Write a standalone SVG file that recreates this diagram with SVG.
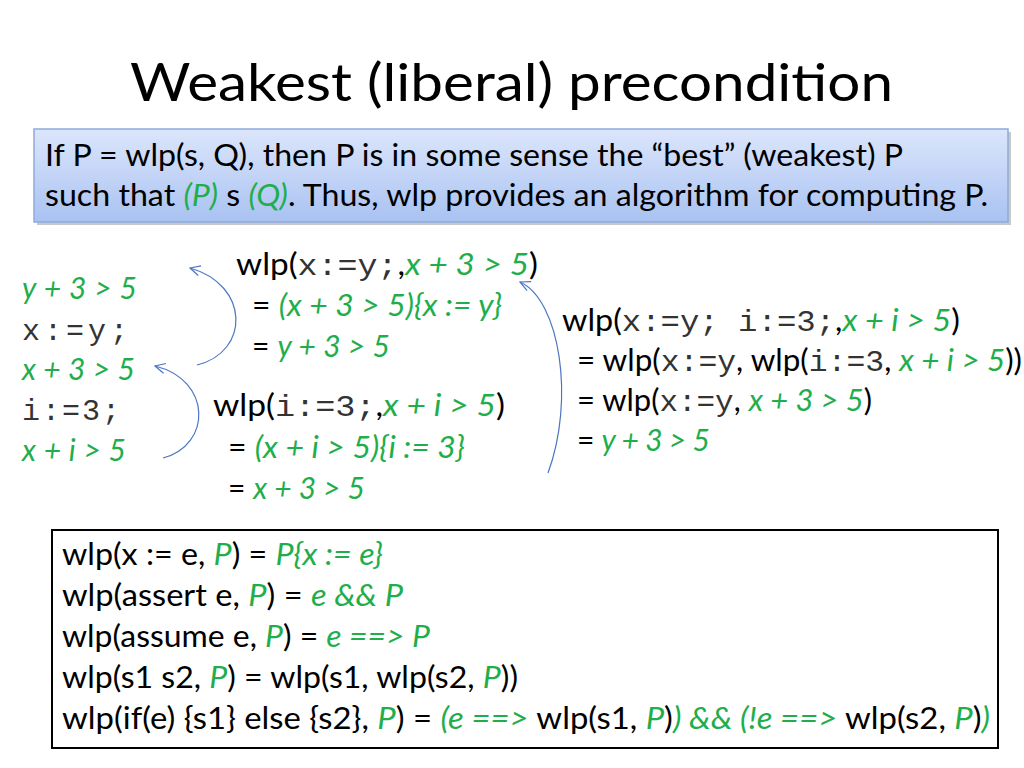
<svg xmlns="http://www.w3.org/2000/svg" width="1024" height="768" viewBox="0 0 1024 768">
<defs>
<linearGradient id="g" x1="0" y1="0" x2="0" y2="1"><stop offset="0" stop-color="#dce6fb"/><stop offset="1" stop-color="#a9c2f2"/></linearGradient>
<marker id="a" viewBox="0 0 12 12" refX="11" refY="6" markerWidth="12" markerHeight="12" markerUnits="userSpaceOnUse" orient="auto"><path d="M1,1 L11,6 L1,11" fill="none" stroke="#4a76c4" stroke-width="1.2"/></marker>
</defs>
<style>
text{font-family:Lato,"Open Sans",sans-serif;font-size:30px;fill:#000}
.g{fill:#1fae4b;font-style:italic}
.m{font-family:"Liberation Mono",monospace;fill:#333}
.c{fill:none;stroke:#4a76c4;stroke-width:1.2}
</style>
<rect width="1024" height="768" fill="#fff"/>
<text x="130" y="101" style="font-size:52px" textLength="763" lengthAdjust="spacingAndGlyphs">Weakest (liberal) precondition</text>
<g id="box">
<rect x="37" y="132" width="974" height="93" fill="#c8c8c8"/>
<rect x="34" y="129" width="974" height="93" fill="url(#g)" stroke="#8eaadb" stroke-width="1.5"/>
<text x="45" y="166" textLength="858" lengthAdjust="spacingAndGlyphs">If P = wlp(s, Q), then P is in some sense the “best” (weakest) P</text>
<text x="45" y="206" textLength="943" lengthAdjust="spacingAndGlyphs">such that <tspan class="g">(P)</tspan> s <tspan class="g">(Q)</tspan>.  Thus, wlp provides an algorithm for computing P.</text>
</g>
<g id="left">
<text x="22" y="299" class="g" textLength="115">y + 3 &gt; 5</text>
<text x="22" y="340" class="m" textLength="106">x:=y;</text>
<text x="22" y="380" class="g" textLength="113">x + 3 &gt; 5</text>
<text x="22" y="420" class="m" textLength="98">i:=3;</text>
<text x="22" y="461" class="g" textLength="104">x + i &gt; 5</text>
</g>
<g id="n1">
<text x="236" y="275" textLength="302" lengthAdjust="spacingAndGlyphs">wlp(<tspan class="m">x:=y;</tspan>,<tspan class="g">x + 3 &gt; 5</tspan>)</text>
<text x="252" y="316" textLength="250" lengthAdjust="spacingAndGlyphs">= <tspan class="g">(x + 3 &gt; 5){x := y}</tspan></text>
<text x="252" y="357" textLength="138">= <tspan class="g">y + 3 &gt; 5</tspan></text>
</g>
<g id="n2">
<text x="213" y="416" textLength="292" lengthAdjust="spacingAndGlyphs">wlp(<tspan class="m">i:=3;</tspan>,<tspan class="g">x + i &gt; 5</tspan>)</text>
<text x="228" y="458" textLength="237" lengthAdjust="spacingAndGlyphs">= <tspan class="g">(x + i &gt; 5){i := 3}</tspan></text>
<text x="228" y="499" textLength="137">= <tspan class="g">x + 3 &gt; 5</tspan></text>
</g>
<g id="n3">
<text x="562" y="331" textLength="398" lengthAdjust="spacingAndGlyphs">wlp(<tspan class="m">x:=y; i:=3;</tspan>,<tspan class="g">x + i &gt; 5</tspan>)</text>
<text x="577" y="371" textLength="445" lengthAdjust="spacingAndGlyphs">= wlp(<tspan class="m">x:=y</tspan>, wlp(<tspan class="m">i:=3</tspan>, <tspan class="g">x + i &gt; 5</tspan>))</text>
<text x="577" y="411" textLength="295" lengthAdjust="spacingAndGlyphs">= wlp(<tspan class="m">x:=y</tspan>, <tspan class="g">x + 3 &gt; 5</tspan>)</text>
<text x="577" y="451" textLength="133">= <tspan class="g">y + 3 &gt; 5</tspan></text>
</g>
<g id="connectors">
<path class="c" d="M197,365 C250,352 250,285 190,268" marker-end="url(#a)"/>
<path class="c" d="M163,458 C212,445 212,380 155,366" marker-end="url(#a)"/>
<path class="c" d="M548,473 C575,400 560,300 520,282" marker-end="url(#a)"/>
</g>
<g id="rules">
<rect x="52" y="530" width="946" height="218" fill="#fff" stroke="#000" stroke-width="2"/>
<text x="62" y="565" textLength="321" lengthAdjust="spacingAndGlyphs">wlp(x := e, <tspan class="g">P</tspan>) = <tspan class="g">P{x := e}</tspan></text>
<text x="62" y="606" textLength="341" lengthAdjust="spacingAndGlyphs">wlp(assert e, <tspan class="g">P</tspan>) = <tspan class="g">e &amp;&amp; P</tspan></text>
<text x="62" y="647" textLength="368" lengthAdjust="spacingAndGlyphs">wlp(assume e, <tspan class="g">P</tspan>) = <tspan class="g">e ==&gt; P</tspan></text>
<text x="62" y="688" textLength="456" lengthAdjust="spacingAndGlyphs">wlp(s1 s2, <tspan class="g">P</tspan>) = wlp(s1, wlp(s2, <tspan class="g">P</tspan>))</text>
<text x="62" y="729" textLength="928" lengthAdjust="spacingAndGlyphs">wlp(if(e) {s1} else {s2}, <tspan class="g">P</tspan>) = <tspan class="g">(e ==&gt; </tspan>wlp(s1, <tspan class="g">P</tspan>)<tspan class="g">) &amp;&amp; (!e ==&gt; </tspan>wlp(s2, <tspan class="g">P</tspan>)<tspan class="g">)</tspan></text>
</g>
</svg>
